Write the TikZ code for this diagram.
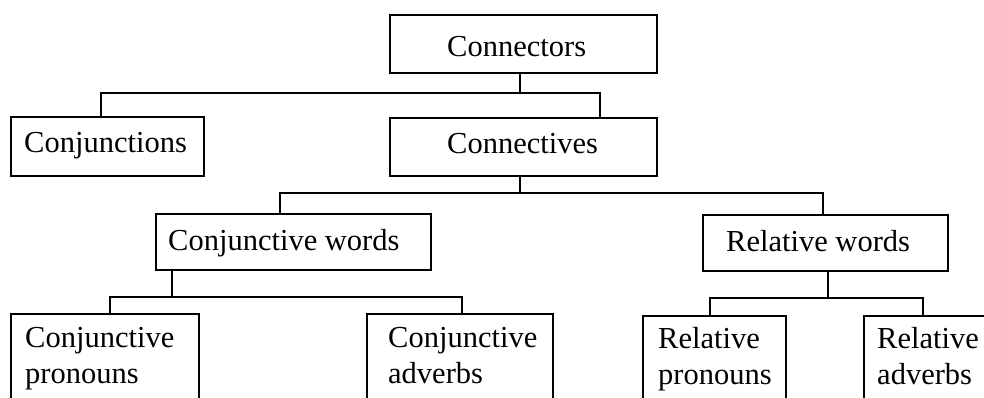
\documentclass[tikz,border=0pt]{standalone}
\usepackage{fontspec}
\setmainfont{Liberation Serif}
\begin{document}
\begin{tikzpicture}[x=1pt,y=-1pt,
  box/.style={draw=black, line width=2pt, rectangle, inner sep=0pt, anchor=north west},
  txt/.style={anchor=base west, inner sep=0pt, align=left, font=\fontsize{30.5}{36}\selectfont},
  link/.style={draw=black, line width=2pt, line join=miter}]
\useasboundingbox (0,0) rectangle (984,398);
\fill[white] (0,0) rectangle (984,398);
\clip (0,0) rectangle (984,398);
% boxes
\node[box, minimum width=267pt, minimum height=58pt] (cors) at (389,14) {};
\node[box, minimum width=193pt, minimum height=59pt] (conj) at (10,116) {};
\node[box, minimum width=267pt, minimum height=58pt] (cives) at (389,117) {};
\node[box, minimum width=275pt, minimum height=56pt] (cwords) at (155,213) {};
\node[box, minimum width=245pt, minimum height=56pt] (rwords) at (702,214) {};
\node[box, minimum width=188pt, minimum height=100pt] (cpron) at (10,313) {};
\node[box, minimum width=186pt, minimum height=100pt] (cadv) at (366,313) {};
\node[box, minimum width=143pt, minimum height=100pt] (rpron) at (642,315) {};
\node[box, minimum width=150pt, minimum height=100pt] (radv) at (863,315) {};
% texts
\node[txt] (tcors) at (447,57) {Connectors};
\node[txt] (tconj) at (24,153) {Conjunctions};
\node[txt] (tcives) at (447,154) {Connectives};
\node[txt] (tcwords) at (168,250) {Conjunctive words};
\node[txt] (trwords) at (726,251) {Relative words};
\node[txt] (tcpron) at (25,383) {Conjunctive\\pronouns};
\node[txt] (tcadv) at (388,383) {Conjunctive\\adverbs};
\node[txt] (trpron) at (658,384) {Relative\\pronouns};
\node[txt] (tradv) at (877,384) {Relative\\adverbs};
% junction coordinates
\coordinate (j1) at (520,93);
\coordinate (h1L) at (101,93);
\coordinate (h1R) at (600,93);
\coordinate (j2) at (520,193);
\coordinate (h2L) at (280,193);
\coordinate (h2R) at (823,193);
\coordinate (j3) at (172,297);
\coordinate (h3L) at (110,297);
\coordinate (h3R) at (462,297);
\coordinate (j4) at (828,298);
\coordinate (h4L) at (710,298);
\coordinate (h4R) at (923,298);
% connectors
\draw[link] (j1 |- cors.south) -- (j1);
\draw[link] (h1L |- conj.north) -- (h1L) -- (h1R) -- (h1R |- cives.north);
\draw[link] (j2 |- cives.south) -- (j2);
\draw[link] (h2L |- cwords.north) -- (h2L) -- (h2R) -- (h2R |- rwords.north);
\draw[link] (j3 |- cwords.south) -- (j3);
\draw[link] (h3L |- cpron.north) -- (h3L) -- (h3R) -- (h3R |- cadv.north);
\draw[link] (j4 |- rwords.south) -- (j4);
\draw[link] (h4L |- rpron.north) -- (h4L) -- (h4R) -- (h4R |- radv.north);
\end{tikzpicture}
\end{document}
